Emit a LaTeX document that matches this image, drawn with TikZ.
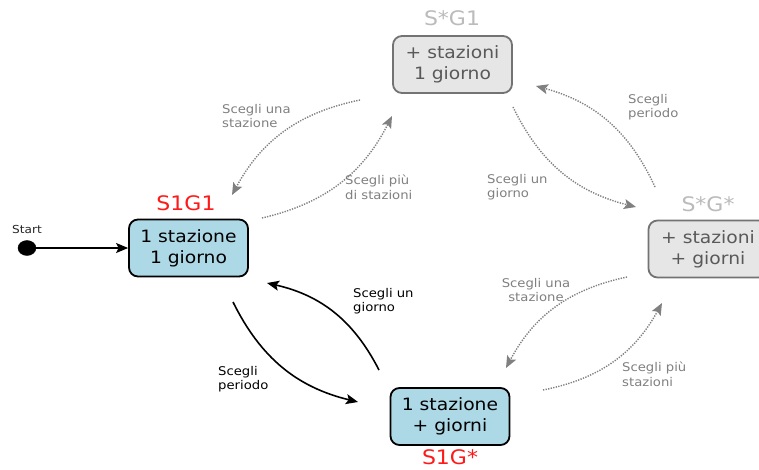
\documentclass[tikz,border=0pt]{standalone}
\usepackage{fontspec}
\setmainfont{DejaVu Sans}[FakeStretch=1.1]
\usetikzlibrary{arrows.meta,shapes.geometric}
\definecolor{boxblue}{HTML}{ADD8E6}
\definecolor{boxgray}{HTML}{E6E6E6}
\definecolor{edgegray}{HTML}{808080}
\definecolor{namegray}{HTML}{BBBBBB}
\definecolor{namered}{HTML}{FF1A1A}
\tikzset{
  state/.style={rounded corners=9pt, line width=1.8pt, minimum width=119pt,
    minimum height=57pt, align=center, inner sep=0pt,
    font=\fontsize{17}{21}\selectfont},
  activestate/.style={state, draw=black, fill=boxblue, text=black},
  idlestate/.style={state, draw=edgegray!90!black, fill=boxgray, text=black!65},
  statename/.style={font=\fontsize{20}{22}\selectfont, inner sep=0pt},
  move/.style={-{Stealth[length=12pt,width=10pt,inset=2.5pt]}, bend right=25},
  mainmove/.style={move, draw=black, line width=1.6pt},
  altmove/.style={move, draw=edgegray, line width=1.4pt, dash pattern=on 1.3pt off 1.3pt},
  hint/.style={font=\fontsize{12}{14.5}\selectfont, anchor=north west,
    align=left, inner sep=0pt},
  mainhint/.style={hint, text=black},
  althint/.style={hint, text=edgegray}
}
\begin{document}
\begin{tikzpicture}[x=1pt,y=-1pt]
\clip (0,0) rectangle (759,469);
\fill[white] (0,0) rectangle (759,469);

% states
\node[activestate] (s1g1) at (188.5,248) {1 stazione\\1 giorno};
\node[idlestate]   (sng1) at (452.5,64.5) {+ stazioni\\1 giorno};
\node[idlestate]   (sngn) at (708,249) {+ stazioni\\+ giorni};
\node[activestate] (s1gn) at (450,416.5) {1 stazione\\+ giorni};

% state names
\node[statename, text=namered]  (n1) at (186,203) {S1G1};
\node[statename, text=namegray] (n2) at (452,18)  {S*G1};
\node[statename, text=namegray] (n3) at (708,204) {S*G*};
\node[statename, text=namered]  (n4) at (450,457) {S1G*};

% initial state
\node[draw, fill=black, ellipse, minimum width=18pt, minimum height=15pt, inner sep=0pt] (start) at (27,248) {};
\node[font=\fontsize{11}{12}\selectfont, text=black!85, inner sep=0pt] (startlab) at (27,229) {Start};
\draw[-{Stealth[length=12pt,width=10pt,inset=2.5pt]}, line width=1.4pt] (start) -- (s1g1);

% connector end points
\coordinate (p1a) at (233,302); \coordinate (p1b) at (358,402);
\coordinate (p2a) at (379,370); \coordinate (p2b) at (267,283);
\coordinate (p3a) at (262,218); \coordinate (p3b) at (392,116);
\coordinate (p4a) at (360,100); \coordinate (p4b) at (232,195);
\coordinate (p5a) at (513,107); \coordinate (p5b) at (636,207);
\coordinate (p6a) at (655,187); \coordinate (p6b) at (536,86);
\coordinate (p7a) at (627,277); \coordinate (p7b) at (506,368);
\coordinate (p8a) at (543,390); \coordinate (p8b) at (662,303);

% transitions
\draw[mainmove] (p1a) to (p1b);
\draw[mainmove] (p2a) to (p2b);
\draw[altmove] (p3a) to (p3b);
\draw[altmove] (p4a) to (p4b);
\draw[altmove] (p5a) to (p5b);
\draw[altmove] (p6a) to (p6b);
\draw[altmove] (p7a) to (p7b);
\draw[altmove] (p8a) to (p8b);

% transition labels
\node[mainhint] (l1) at (218,366) {Scegli\\periodo};
\node[mainhint] (l2) at (353,288) {Scegli un\\giorno};
\node[althint]  (l3) at (345,175) {Scegli più\\di stazioni};
\node[althint]  (l4) at (222,104) {Scegli una\\stazione};
\node[althint]  (l5) at (487,174) {Scegli un\\giorno};
\node[althint]  (l6) at (628,94)  {Scegli\\periodo};
\node[althint, anchor=north, align=center] (l7) at (536,278) {Scegli una\\stazione};
\node[althint]  (l8) at (622,362) {Scegli più\\stazioni};
\end{tikzpicture}
\end{document}
